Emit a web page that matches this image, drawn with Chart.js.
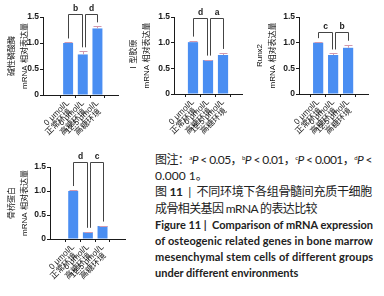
<!DOCTYPE html>
<html>
<head>
<meta charset="utf-8">
<script src="https://cdn.jsdelivr.net/npm/chart.js@4.4.0/dist/chart.umd.min.js"></script>
<style>
  body { margin: 0; width: 384px; height: 296px; background: #fff; position: relative; overflow: hidden; }
  canvas { position: absolute; }
  #caption { position: absolute; left: 155px; top: 152px; white-space: nowrap; color: #222;
    font-family: Lato, "Noto Sans CJK SC", sans-serif; line-height: 16.2px; }
  #caption div { width: max-content; }
  #caption .zh { font-size: 12px; }
  #caption .en { font-size: 11px; font-weight: bold; }
  #caption sup { font-size: 6px; vertical-align: 4px; line-height: 0; }
  #caption i { font-style: italic; }
</style>
</head>
<body>
<canvas id="c1" width="128" height="146" style="left:0;top:0"></canvas>
<canvas id="c2" width="130" height="146" style="left:122px;top:0"></canvas>
<canvas id="c3" width="136" height="146" style="left:248px;top:0"></canvas>
<canvas id="c4" width="140" height="150" style="left:0;top:146px"></canvas>
<div id="caption">
  <div class="zh" data-w="217">图注：<sup>a</sup><i>P</i> &lt; 0.05，<sup>b</sup><i>P</i> &lt; 0.01，<sup>c</sup><i>P</i> &lt; 0.001，<sup>d</sup><i>P</i> &lt;</div>
  <div class="zh">0.000 1。</div>
  <div class="zh" data-w="217">图 <b>11</b> &nbsp;|&nbsp; 不同环境下各组骨髓间充质干细胞</div>
  <div class="zh" data-w="162">成骨相关基因 mRNA 的表达比较</div>
  <div class="en" data-w="218">Figure 11 | &nbsp;Comparison of mRNA expression</div>
  <div class="en" data-w="218">of osteogenic related genes in bone marrow</div>
  <div class="en" data-w="218">mesenchymal stem cells of different groups</div>
  <div class="en" data-w="143">under different environments</div>
</div>
<script>
// groups on the x axis
const categories = [
    ['0 μmol/L', '正常环境'],
    ['0 μmol/L', '高糖环境'],
    ['12.5 μmol/L', '高糖环境']
];
const yTicks = [0, 0.5, 1.0, 1.5];

// relative mRNA expression, mean and error
const alpValues = [1.00, 0.78, 1.28];
const alpErrors = [0.01, 0.06, 0.04];
const col1Values = [1.01, 0.66, 0.76];
const col1Errors = [0.03, 0.01, 0.04];
const runx2Values = [1.00, 0.76, 0.90];
const runx2Errors = [0.01, 0.03, 0.06];
const opnValues = [1.00, 0.14, 0.27];
const opnErrors = [0.02, 0.01, 0.01];

// significance letters: group1 vs group2, group2 vs group3
const alpSig = ['b', 'd'];
const col1Sig = ['d', 'a'];
const runx2Sig = ['c', 'b'];
const opnSig = ['d', 'c'];

const BAR_BLUE = '#4a8ef2';
const AXIS = '#1a1a1a';
const FONT = '"Liberation Sans", "Noto Sans CJK SC", sans-serif';

// stretch caption lines to the widths they have in the figure
document.querySelectorAll('#caption [data-w]').forEach(el => {
    const natural = el.getBoundingClientRect().width;
    const chars = el.textContent.length;
    el.style.letterSpacing = ((+el.dataset.w - natural) / chars).toFixed(3) + 'px';
});

function makeOverlay(values, errors, sig, level) {
    return {
        id: 'overlay',
        afterDatasetsDraw(chart) {
            const { ctx, scales: { x, y } } = chart;
            ctx.save();
            // error bars
            ctx.strokeStyle = '#d29aae';
            ctx.lineWidth = 1;
            values.forEach((v, i) => {
                const px = Math.round(x.getPixelForValue(i + 1)) + 0.5;
                const top = Math.round(y.getPixelForValue(v + errors[i])) + 0.5;
                const base = y.getPixelForValue(v);
                ctx.beginPath();
                ctx.moveTo(px, base);
                ctx.lineTo(px, top);
                ctx.moveTo(px - 4, top);
                ctx.lineTo(px + 4, top);
                ctx.stroke();
            });
            // significance brackets
            const yl = Math.round(y.getPixelForValue(level)) + 0.5;
            ctx.strokeStyle = '#444';
            ctx.fillStyle = '#222';
            ctx.font = 'bold 8.5px ' + FONT;
            ctx.textAlign = 'center';
            ctx.textBaseline = 'bottom';
            sig.forEach((s, k) => {
                const xa = Math.round(x.getPixelForValue(k + 1) + (k === 1 ? 2 : 0)) + 0.5;
                const xb = Math.round(x.getPixelForValue(k + 2) - (k === 0 ? 1 : 0)) + 0.5;
                const ya = Math.max(yl, y.getPixelForValue(values[k] + errors[k]) - 4);
                const yb = Math.max(yl, y.getPixelForValue(values[k + 1] + errors[k + 1]) - 4);
                ctx.beginPath();
                ctx.moveTo(xa, ya);
                ctx.lineTo(xa, yl);
                ctx.lineTo(xb, yl);
                ctx.lineTo(xb, yb);
                ctx.stroke();
                ctx.fillText(s, (xa + xb) / 2, yl - 2);
            });
            ctx.restore();
        }
    };
}

function makePanel(id, title, values, errors, sig, p) {
    const canvas = document.getElementById(id);
    return new Chart(canvas, {
        type: 'bar',
        data: {
            datasets: [{
                data: values.map((v, i) => ({ x: i + 1, y: v })),
                backgroundColor: BAR_BLUE,
                borderWidth: 0,
                barPercentage: 0.68,
                categoryPercentage: 1
            }]
        },
        options: {
            responsive: false,
            animation: false,
            layout: { padding: { top: p.top, right: canvas.width - p.right, left: 0, bottom: 0 } },
            plugins: { legend: { display: false }, tooltip: { enabled: false } },
            scales: {
                x: {
                    type: 'linear',
                    min: p.xMin,
                    max: p.xMax,
                    afterBuildTicks: s => { s.ticks = categories.map((c, i) => ({ value: i + 1 })); },
                    afterFit: s => { s.height = canvas.height - p.bottom; },
                    ticks: {
                        autoSkip: false,
                        maxRotation: 45,
                        minRotation: 45,
                        padding: 1,
                        color: AXIS,
                        font: { family: FONT, size: 8.3, lineHeight: '7.8px' },
                        // second line sits a little further back, as in the figure
                        callback: v => [categories[v - 1][0], categories[v - 1][1] + '  ']
                    },
                    grid: { drawOnChartArea: false, tickLength: 3, color: AXIS },
                    border: { color: AXIS, width: 1 }
                },
                y: {
                    min: 0,
                    max: 1.5,
                    afterBuildTicks: s => { s.ticks = yTicks.map(v => ({ value: v })); },
                    afterFit: s => { s.width = p.left; },
                    ticks: {
                        padding: 1,
                        color: AXIS,
                        font: { family: FONT, size: 8.5, weight: 'bold' },
                        callback: v => v === 0 ? '0' : v.toFixed(1)
                    },
                    grid: { drawOnChartArea: false, tickLength: 3, color: AXIS },
                    border: { color: AXIS, width: 1 },
                    title: {
                        display: true,
                        text: [title, 'mRNA 相对表达量'],
                        color: '#111',
                        font: { family: FONT, size: 8, lineHeight: '13px' },
                        padding: { top: 5, bottom: 0 }
                    }
                }
            }
        },
        plugins: [makeOverlay(values, errors, sig, p.level)]
    });
}

makePanel('c1', '碱性磷酸酶', alpValues, alpErrors, alpSig,
    { left: 43, top: 17, right: 118, bottom: 95, xMin: 0.14, xMax: 3.55, level: 1.55 });
makePanel('c2', 'Ⅰ型胶原', col1Values, col1Errors, col1Sig,
    { left: 52, top: 17, right: 120, bottom: 94, xMin: 0.49, xMax: 3.51, level: 1.48 });
makePanel('c3', 'Runx2', runx2Values, runx2Errors, runx2Sig,
    { left: 51, top: 17, right: 120, bottom: 94, xMin: 0.49, xMax: 3.56, level: 1.2 });
makePanel('c4', '骨桥蛋白', opnValues, opnErrors, opnSig,
    { left: 50, top: 21, right: 125, bottom: 93, xMin: 0.27, xMax: 3.68, level: 1.6 });
</script>
</body>
</html>
